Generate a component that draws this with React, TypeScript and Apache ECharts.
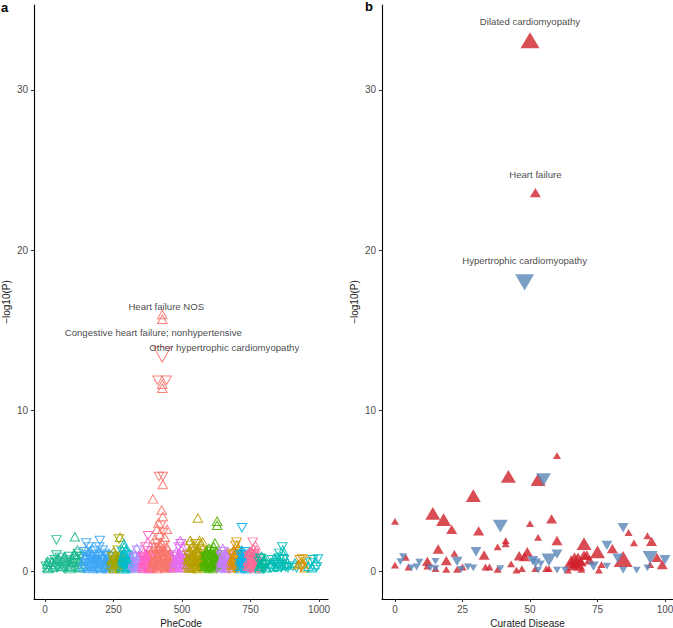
import React, { useEffect, useRef } from "react";
import * as echarts from "echarts";

// ---- Panel a: PheWAS (PheCode, -log10 P, direction 1=up/-1=down, optional effect weight)
const gInfectious = [[8,0.43,1],[8,0.22,1],[10,0.6,1],[15,0.3,-1],[20,0.5,-1],[28,0.25,1],[35,0.7,-1],[42,1.94,-1],[42,1.0,-1],[44,0.6,-1],[45,0.2,-1],[52,0.45,1],[55,0.85,-1],[60,0.28,1],[63,0.6,1],[67,0.79,1],[70,0.15,-1],[75,0.5,-1],[79,0.39,1],[85,0.25,1],[88,0.9,-1],[91,0.69,-1],[95,0.3,1],[100,0.55,1],[103,0.48,-1],[106,1.05,1],[109,2.14,1],[109,1.0,1],[112,0.3,-1],[115,0.75,1],[118,1.3,1],[120,1.1,-1],[124,0.6,1],[127,0.69,1],[130,0.2,1],[133,0.9,-1],[136,0.4,1],
  [3,0.3,-1],[12,0.15,1],[25,0.55,1],[32,0.2,-1],[38,0.4,1],[48,0.8,1],[58,0.5,-1],[66,0.3,1],[72,0.9,1],[82,0.6,-1],[93,0.15,1],[97,0.8,1],[110,0.5,-1],[122,0.25,1],[128,0.9,-1]];
const gNeoplasms = [[140,0.3,1],[143,1.2,-1],[146,0.8,1],[148,0.5,-1],[150,1.75,-1],[152,1.3,1],[154,0.2,1],[156,1.0,-1],[158,0.6,1],[160,1.5,-1],[162,0.4,-1],[164,0.9,1],[166,1.2,1],[168,0.3,1],[170,0.7,-1],[172,1.4,1],[174,0.5,1],[176,1.0,-1],[178,0.2,-1],[180,0.8,1],[182,1.25,-1],[184,0.45,1],[186,0.65,-1],[188,1.1,1],[190,0.3,1],[192,0.9,-1],[195,0.55,1],[198,1.5,-1],[200,1.9,-1],[202,0.25,1],[204,1.05,1],[206,0.7,-1],[208,0.4,1],[210,1.3,-1],[212,0.15,-1],[214,0.85,1],[216,0.5,1],[218,1.1,-1],[220,0.35,1],[222,0.75,1],[224,0.2,-1],[226,1.0,-1],[228,0.6,1],[230,0.3,1],[232,0.9,-1],[235,0.45,1],[238,0.2,-1],
  [141,0.6,1],[145,0.15,-1],[149,0.95,1],[153,0.7,-1],[157,0.35,1],[161,0.8,1],[165,0.25,-1],[169,1.0,1],[173,0.15,1],[177,0.6,1],[181,0.35,-1],[185,0.9,1],[189,0.6,-1],[193,0.2,1],[197,0.75,1],[201,0.5,-1],[205,0.15,1],[209,0.85,1],[213,0.55,-1],[217,0.25,1],[221,0.95,-1],[225,0.45,1],[229,0.8,1],[233,0.15,1],[237,0.6,1]];
const gEndocrine = [[242,0.4,1],[245,0.9,-1],[248,0.2,1],[250,1.2,1],[252,0.6,-1],[254,0.3,-1],[256,1.0,1],[258,0.5,1],[260,0.15,-1],[262,0.8,1],[264,0.35,1],[266,1.3,-1],[268,0.7,1],[270,2.0,-1],[272,0.25,1],[274,2.1,1],[275,1.1,1],[276,0.5,-1],[278,0.9,1],
  [243,0.7,1],[247,0.3,-1],[251,0.8,1],[253,0.15,1],[257,0.45,-1],[259,1.0,1],[261,0.6,1],[263,0.2,-1],[265,0.9,1],[267,0.45,1],[269,0.15,-1],[271,0.8,1],[273,0.5,-1],[277,0.3,1],[279,0.6,-1]];
const gHemato = [[280,0.3,1],[282,1.2,-1],[284,0.6,1],[286,0.9,1],[288,1.7,1],[289,1.5,1],[290,0.2,-1],[292,1.0,1],[294,0.45,-1],[296,1.3,1],[298,0.7,1],[300,0.25,1],[302,0.9,-1],[305,0.5,1],[308,1.1,1],[310,0.35,-1],[313,0.6,1],[316,0.2,1],
  [281,0.7,1],[283,0.15,1],[285,0.45,-1],[287,1.1,1],[291,0.6,1],[293,0.8,-1],[295,0.15,1],[297,0.5,1],[299,1.0,-1],[301,0.55,1],[303,0.3,1],[304,0.75,1],[307,0.15,-1],[309,0.85,1],[312,0.4,1]];
const gMental = [[320,0.4,1],[323,0.8,-1],[326,0.25,1],[329,1.0,1],[332,0.6,-1],[335,1.4,1],[336,1.3,-1],[338,0.3,1],[341,0.7,1],[344,0.15,-1],[347,0.5,1],[350,0.9,1],
  [321,0.15,-1],[324,0.55,1],[327,0.9,-1],[330,0.35,1],[333,0.2,1],[337,0.8,1],[340,0.45,-1],[343,0.9,1],[346,0.3,1],[349,0.6,-1]];
const gNeuro = [[355,0.3,1],[357,0.9,-1],[359,0.5,1],[361,1.2,1],[363,0.2,-1],[365,0.7,1],[367,1.5,-1],[369,0.4,1],[371,1.0,1],[373,0.6,-1],[375,1.8,1],[376,2.2,-1],[378,0.35,1],[380,1.3,1],[382,0.8,-1],[384,0.15,1],[386,1.1,1],[388,0.5,-1],
  [356,0.6,1],[358,0.2,1],[360,0.8,-1],[362,0.45,1],[364,1.0,1],[366,0.25,-1],[368,0.9,1],[370,0.15,1],[372,0.75,1],[374,0.3,-1],[377,1.0,1],[379,0.6,-1],[381,0.2,1],[383,0.5,1],[385,0.9,-1],[387,0.3,1],[389,0.7,1]];
const gCirculatory = [[390,0.3,1],[392,1.0,-1],[394,4.5,1],[395,0.6,1],[397,1.5,1],[399,0.2,-1],[401,2.0,1],[403,0.8,1],[405,1.2,-1],[407,0.4,1],[409,2.6,1],[410,1.7,-1],[412,0.9,1],[414,3.0,1],[415,0.3,-1],[416,5.9,-1],[417,1.4,1],[411,11.9,-1],[419,2.3,1],[420,0.6,1],[421,1.0,-1],[422,2.8,-1],[423,0.2,1],[424,1.8,1],[428,11.65,1],[428,11.4,1],[426,3.8,1],[427,0.5,-1],[428,16.0,1],[428,15.7,1],[428,13.5,-1,1.8],[429,1.2,1],[430,5.9,-1],[430,5.4,1],[430,3.4,1],[431,2.4,-1],[444,11.9,-1],[433,0.8,1],[435,1.6,-1],[437,2.1,1],[439,0.35,1],[441,1.0,-1],[443,0.7,1],[445,2.6,1],[447,0.25,-1],[449,1.3,1],[451,0.5,1],[453,0.9,-1],[455,0.3,1],[457,1.1,1],[459,0.6,-1],[461,0.2,1],[464,0.8,1],[467,0.4,-1],
  [391,0.6,1],[393,0.25,1],[396,0.9,-1],[398,0.45,1],[400,1.1,1],[402,0.3,-1],[404,0.6,1],[406,1.5,1],[408,0.15,1],[411,1.0,-1],[413,0.5,1],[418,0.8,1],[419,1.2,-1],[420,1.6,1],[422,0.4,1],[425,1.0,1],[426,0.15,-1],[429,0.7,-1],[432,1.4,1],[434,0.3,1],[436,0.9,-1],[438,1.2,1],[440,0.55,1],[442,0.2,1],[444,1.5,1],[446,0.8,-1],[448,0.4,1],[450,1.0,1],[452,0.2,-1],[454,0.6,1],[456,0.35,1],[458,0.9,1],[460,0.45,-1],[463,0.25,1],[466,0.7,1]];
const gRespiratory = [[470,0.3,1],[473,0.9,-1],[476,0.5,1],[479,1.2,1],[482,0.2,-1],[485,0.7,1],[488,1.5,-1],[490,0.4,1],[492,1.0,1],[494,1.9,1],[495,1.7,-1],[497,0.6,-1],[499,1.3,1],[501,0.25,1],[503,0.8,-1],[506,1.1,1],[509,0.45,1],[512,0.7,-1],[515,0.2,1],
  [471,0.6,1],[474,0.2,1],[477,1.0,-1],[480,0.5,1],[483,0.85,1],[486,0.3,-1],[489,1.1,1],[491,0.7,1],[493,0.2,-1],[496,0.95,1],[498,0.4,1],[500,0.75,-1],[502,1.5,1],[504,0.35,1],[507,0.6,-1],[510,0.9,1],[513,0.4,1],[517,0.6,-1]];
const gDigestive = [[520,0.4,1],[522,1.0,-1],[524,0.2,1],[526,0.7,1],[528,1.3,1],[530,1.9,1],[531,1.6,-1],[533,0.5,-1],[535,0.9,1],[537,1.5,1],[539,0.3,1],[541,1.2,-1],[543,0.6,1],[545,0.15,-1],[547,1.0,1],[549,1.7,-1],[551,0.4,1],[553,0.8,1],[555,1.4,1],[558,3.3,1],[560,0.25,-1],[562,1.1,1],[564,1.9,1],[566,0.6,-1],[568,1.6,1],[570,0.35,1],[572,1.3,-1],[574,0.9,1],[576,1.8,1],[578,0.5,-1],
  [521,0.7,1],[523,0.5,-1],[525,0.25,1],[527,1.0,1],[529,0.45,-1],[532,0.75,1],[534,0.2,1],[536,1.1,-1],[538,0.6,1],[540,0.9,1],[542,0.3,-1],[544,1.0,1],[546,0.55,1],[548,0.2,1],[550,0.85,-1],[552,1.2,1],[554,0.45,1],[556,0.7,-1],[557,0.15,1],[559,1.0,1],[561,0.6,1],[563,0.3,-1],[565,0.8,1],[567,1.2,1],[569,0.2,-1],[571,0.7,1],[573,0.45,1],[575,1.1,-1],[577,0.3,1],[579,0.8,1]];
const gGenitourinary = [[582,0.3,1],[584,0.9,-1],[586,0.5,1],[588,1.2,1],[590,0.2,-1],[592,0.7,1],[594,1.0,1],[596,0.4,-1],[598,1.4,1],[600,0.6,1],[602,0.15,-1],[604,1.1,1],[606,0.8,-1],[608,0.35,1],[610,1.3,1],[612,0.55,1],[614,0.9,-1],[616,1.5,1],[618,0.25,1],[620,1.75,1],[622,0.7,-1],[624,1.2,1],[626,0.45,1],[628,3.1,1],[628,2.85,1],[630,1.0,-1],[632,0.3,1],[635,0.8,1],
  [581,0.6,1],[583,0.15,-1],[585,1.0,1],[587,0.4,1],[589,0.8,-1],[591,0.3,1],[593,1.1,1],[595,0.6,-1],[597,0.2,1],[599,0.9,1],[601,0.45,-1],[603,0.75,1],[605,0.3,1],[607,1.2,-1],[609,0.6,1],[611,0.15,1],[613,1.0,1],[615,0.4,-1],[617,0.7,1],[619,1.1,-1],[621,0.3,1],[623,0.85,1],[625,0.2,-1],[627,0.6,1],[629,0.4,1],[633,0.7,-1],[637,0.4,1]];
const gPregnancy = [[640,0.3,1],[643,0.9,-1],[646,0.5,1],[649,1.4,1],[650,1.2,-1],[652,0.7,1],[655,0.2,-1],[658,1.0,1],[661,0.45,1],[664,0.8,-1],[667,0.25,1],[670,0.6,1],[673,1.1,-1],[676,0.35,1],
  [641,0.6,1],[644,0.2,1],[645,1.0,-1],[647,0.75,1],[648,0.3,-1],[651,0.5,1],[653,1.0,1],[654,0.4,-1],[656,0.7,1],[657,0.25,1],[659,0.6,-1],[660,0.15,1],[662,0.85,1],[663,0.35,-1],[665,0.6,1],[668,0.9,1],[671,0.2,-1],[674,0.5,1]];
const gSkin = [[680,0.4,1],[683,1.0,-1],[686,0.6,1],[689,1.3,1],[692,0.25,-1],[695,1.6,-1],[697,0.8,1],[699,1.8,-1],[700,1.6,1],[702,0.5,1],[704,1.2,-1],[707,0.3,1],[710,0.9,1],
  [681,0.7,1],[684,0.2,1],[685,1.1,-1],[687,0.35,1],[688,0.8,1],[690,0.5,-1],[691,1.0,1],[693,0.6,1],[694,0.15,-1],[696,1.1,1],[698,0.4,1],[701,0.9,-1],[703,0.25,1],[705,0.7,1],[706,1.3,1],[708,0.5,-1]];
const gMusculo = [[712,0.3,1],[714,1.0,-1],[716,0.6,1],[718,1.3,1],[719,2.7,-1],[721,0.2,-1],[723,0.8,1],[725,1.1,1],[727,0.45,-1],[729,0.7,1],[731,1.2,-1],[733,0.25,1],[736,0.9,1],[738,0.4,-1],
  [711,0.7,1],[713,0.45,-1],[715,0.15,1],[717,0.9,1],[720,0.55,1],[722,1.0,-1],[724,0.35,1],[726,0.75,1],[728,1.1,-1],[730,0.2,1],[732,0.6,1],[734,0.9,-1],[735,0.5,1],[737,0.15,1],[739,0.7,1]];
const gCongenital = [[740,0.3,1],[743,0.9,-1],[746,0.5,1],[749,1.2,1],[752,0.2,-1],[755,0.7,1],[758,1.8,-1],[760,1.4,1],[762,1.0,-1],[765,0.4,1],[768,1.6,1],[770,0.6,-1],[773,0.25,1],[776,0.9,1],
  [741,0.6,1],[742,0.2,-1],[744,1.1,1],[745,0.4,1],[747,0.8,-1],[748,0.3,1],[750,0.6,1],[751,1.0,-1],[753,0.45,1],[754,1.2,1],[756,0.3,-1],[757,0.9,1],[759,0.5,1],[761,0.75,-1],[763,0.25,1],[764,1.1,1],[766,0.6,-1],[767,0.15,1],[769,0.8,1],[771,1.3,1],[772,0.45,-1],[774,0.6,1],[777,0.3,1]];
const gSymptoms = [[782,0.3,1],[785,0.8,-1],[788,0.5,1],[791,0.9,1],[794,0.2,-1],[797,0.6,1],[800,0.35,-1],[803,0.7,1],[806,0.2,1],
  [781,0.6,-1],[783,0.15,1],[786,0.4,1],[789,0.75,-1],[792,0.3,1],[795,0.55,1],[798,0.15,-1],[801,0.5,1],[804,0.4,-1]];
const gInjuries = [[822,0.4,1],[828,0.7,-1],[834,0.25,1],[840,0.5,-1],[846,0.9,1],[850,0.3,1],[855,1.1,-1],[858,0.6,1],[862,0.2,-1],[866,1.5,-1],[868,1.3,1],[870,1.0,1],[872,0.7,-1],[874,0.4,1],[878,0.25,-1],[884,0.5,1],[905,0.3,-1],[912,0.5,1],[918,0.2,-1],
  [825,0.2,-1],[831,0.45,1],[837,0.8,1],[843,0.2,-1],[848,0.6,1],[853,0.4,-1],[860,0.9,1],[864,0.45,1],[876,0.8,1],[880,0.35,1],[887,0.2,-1]];
const gPoisoning = [[925,0.4,1],[930,0.7,-1],[933,0.5,1],[936,0.25,-1],[940,0.75,-1],[944,0.45,1],[948,0.2,1],[952,0.6,-1]];
const gOther = [[962,0.3,1],[968,0.5,-1],[973,0.2,1],[978,0.7,-1],[983,0.4,1],[988,0.6,1],[992,0.25,-1],[996,0.75,-1]];

const pheGroups = [gInfectious, gNeoplasms, gEndocrine, gHemato, gMental, gNeuro, gCirculatory, gRespiratory, gDigestive, gGenitourinary, gPregnancy, gSkin, gMusculo, gCongenital, gSymptoms, gInjuries, gPoisoning, gOther];
const pheColors = ["#1DB98F", "#3DA6F5", "#A3A500", "#00BCC9", "#B08CFF", "#FF61C3", "#F8766D", "#E36EF2", "#B89F00", "#4BB400", "#C77CFF", "#D99100", "#00B2F0", "#FF6A98", "#00BAA0", "#00BDB5", "#D39200", "#00BCC2"];

const pheLabels = [
  { text: "Heart failure NOS", code: 428, value: 16.0 },
  { text: "Congestive heart failure; nonhypertensive", code: 428, value: 15.7 },
  { text: "Other hypertrophic cardiomyopathy", code: 428, value: 13.5 },
];

// ---- Panel b: curated diseases (index, -log10 P, effect class)
const curatedUp = [[0,3.1,1],[0,0.37,1],[4,0.85,1],[5,0.25,1],[12,0.6,2],[12,0.3,1],[14,3.6,3],[15,0.15,1],[16,1.37,2],[18,3.2,3],[19,0.65,2],[19,0.1,1],[21,2.6,2],[22,1.1,1],[23,0.1,1],[25,0.25,1],[29,4.7,3],[31,2.5,2],[33,1.0,2],[33.5,0.25,1],[35,0.25,1],[38,1.5,1],[38,0.1,1],[41,1.9,1],[41,1.7,1],[42,5.9,3],[43,0.45,1],[45,0.05,1],[46,0.95,2],[47,0.15,1],[48,0.9,2],[49,1.2,2],[50,2.95,1],[50,33.1,4],[52,23.6,2],[52,0.15,1],[53,5.7,3],[53,2.1,1],[56,0.15,1],[57,0.15,1],[58,3.25,2],[60,7.2,1],[60,1.9,2],[64,0.05,1],[65.3,0.58,3],[66.5,0.75,3],[67.8,0.75,3],[67.2,0.44,2],[68.4,0.33,2],[65.9,0.33,2],[68.9,0.58,2],[69,0.1,1],[70,1.7,3],[70,1.0,2],[71,1.0,2],[72,0.7,2],[75,1.2,3],[75.5,0.05,1],[76.5,0.4,1],[80.5,1.4,2],[84.5,0.75,4],[86.5,2.4,1],[88.5,1.75,1],[93.5,2.2,1],[95,1.85,2],[94.5,0.4,1],[97,0.85,2],[99,0.4,2]];
const curatedDown = [[2,0.58,1],[3,0.9,1],[6,0.2,1],[8,0.25,1],[9,0.55,1],[13,0.2,1],[15,0.15,1],[15,0.6,1],[23,0.6,2],[24.5,0.1,1],[27,0.25,1],[29,0.2,1],[30,1.2,2],[39,2.8,3],[39,0.15,1],[48,18.0,4],[51,0.65,2],[52,0.5,2],[53,0.05,1],[54,0.45,1],[55,5.7,3],[57,0.7,3],[60,1.05,2],[60,0.05,1],[63,0.05,1],[73.5,0.3,2],[78.5,1.6,2],[78.5,0.3,1],[82.5,0.8,2],[84.5,0.05,1],[84.5,2.7,2],[89.5,0.05,1],[93.5,0.2,1],[94.5,0.85,3],[100,0.7,2]];
const curatedLabels = [
  { text: "Dilated cardiomyopathy", idx: 50, value: 33.1 },
  { text: "Heart failure", idx: 52, value: 23.6 },
  { text: "Hypertrophic cardiomyopathy", idx: 48, value: 18.0 },
];

const xTicksA = [0, 250, 500, 750, 1000];
const xTicksB = [0, 25, 50, 75, 100];
const yTicks = [0, 10, 20, 30];

const FONT = "'Liberation Sans', Arial, Helvetica, sans-serif";

export default function App() {
  const ref = useRef<HTMLDivElement>(null);
  useEffect(() => {
    if (!ref.current) return;
    const chart = echarts.init(ref.current, null, { renderer: "svg" });

    const axisCommonX = (gridIndex: number, min: number, max: number, ticks: number[], name: string) => ({
      type: "value", gridIndex, min, max,
      name, nameLocation: "middle", nameGap: 17,
      nameTextStyle: { color: "#1a1a1a", fontSize: 10, fontFamily: FONT },
      axisLine: { show: true, onZero: false, lineStyle: { color: "#000", width: 1.1 } },
      axisTick: { show: true, length: 3, customValues: ticks, lineStyle: { color: "#333" } },
      axisLabel: { customValues: ticks, formatter: (v: number) => String(v), color: "#4d4d4d", fontSize: 10, fontFamily: FONT, margin: 5 },
      splitLine: { show: false },
    });
    const axisCommonY = (gridIndex: number) => ({
      type: "value", gridIndex, min: -1.746, max: 35.3,
      name: "\u2212log10(P)", nameLocation: "middle", nameGap: 23,
      nameTextStyle: { color: "#1a1a1a", fontSize: 10, fontFamily: FONT },
      axisLine: { show: true, onZero: false, lineStyle: { color: "#000", width: 1.1 } },
      axisTick: { show: true, length: 3, customValues: yTicks, lineStyle: { color: "#333" } },
      axisLabel: { customValues: yTicks, formatter: (v: number) => String(v), color: "#4d4d4d", fontSize: 10, fontFamily: FONT, margin: 6 },
      splitLine: { show: false },
    });

    const series: any[] = [];
    pheGroups.forEach((grp, gi) => {
      series.push({
        type: "scatter", xAxisIndex: 0, yAxisIndex: 0,
        data: grp.map((p: number[]) => {
          const w = p[3] || 1;
          return {
            value: [p[0], p[1]],
            symbolRotate: p[2] < 0 ? 180 : 0,
            symbolSize: [9.5 * w, 8.5 * w],
          };
        }),
        symbol: "triangle",
        itemStyle: { color: "rgba(0,0,0,0)", borderColor: pheColors[gi], borderWidth: 1, opacity: 0.9 },
        silent: true,
      });
    });
    const labelOffsetsA = [[4, -8], [-9, 13], [62, -7]];
    series.push({
      type: "scatter", xAxisIndex: 0, yAxisIndex: 0, symbolSize: 0,
      data: pheLabels.map((l, i) => ({
        value: [l.code, l.value],
        label: { show: true, formatter: l.text, position: "inside", offset: labelOffsetsA[i] },
      })),
      label: { color: "#111", fontSize: 9.6, fontFamily: FONT },
      z: 10,
    });

    const sizeOf = (e: number) => [8, 8, 11, 15, 19][e];
    series.push({
      type: "scatter", xAxisIndex: 1, yAxisIndex: 1, symbol: "triangle",
      data: curatedUp.map((p) => ({ value: [p[0], p[1]], symbolSize: [sizeOf(p[2]), sizeOf(p[2]) * 0.85] })),
      itemStyle: { color: "#D0202A" },
    });
    series.push({
      type: "scatter", xAxisIndex: 1, yAxisIndex: 1, symbol: "triangle",
      data: curatedDown.map((p) => ({ value: [p[0], p[1]], symbolRotate: 180, symbolSize: [sizeOf(p[2]), sizeOf(p[2]) * 0.85] })),
      itemStyle: { color: "#5A86B8" },
    });
    const labelOffsetsB = [[0, -19], [0, -18], [0, -22]];
    series.push({
      type: "scatter", xAxisIndex: 1, yAxisIndex: 1, symbolSize: 0,
      data: curatedLabels.map((l, i) => ({
        value: [l.idx, l.value],
        label: { show: true, formatter: l.text, position: "inside", offset: labelOffsetsB[i] },
      })),
      label: { color: "#111", fontSize: 9.6, fontFamily: FONT },
      z: 10,
    });

    chart.setOption({
      animation: false,
      backgroundColor: "#fff",
      textStyle: { fontFamily: FONT },
      grid: [
        { left: 34, top: 5, width: 294, height: 594, outerBoundsMode: "none", containLabel: false },
        { left: 382, top: 5, width: 291, height: 594, outerBoundsMode: "none", containLabel: false },
      ],
      xAxis: [
        axisCommonX(0, -40.1, 1032.8, xTicksA, "PheCode"),
        axisCommonX(1, -4.81, 102.96, xTicksB, "Curated Disease"),
      ],
      yAxis: [axisCommonY(0), axisCommonY(1)],
      graphic: [
        { type: "text", left: 1, top: 1, style: { text: "a", font: `bold 13px ${FONT}`, fill: "#000" } },
        { type: "text", left: 365, top: 0, style: { text: "b", font: `bold 13px ${FONT}`, fill: "#000" } },
      ],
      series,
    });
    return () => chart.dispose();
  }, []);
  return <div ref={ref} style={{ position: "fixed", left: 0, top: 0, width: 673, height: 628 }} />;
}
